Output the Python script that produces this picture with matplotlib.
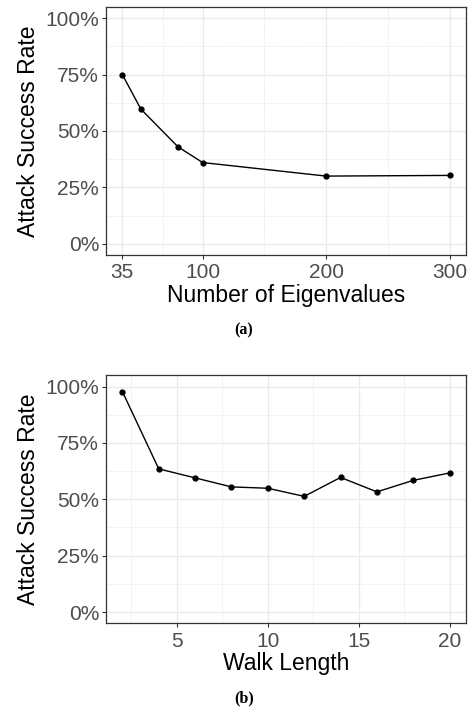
import matplotlib.pyplot as plt
from matplotlib.ticker import FuncFormatter, FixedLocator

# Data
eig_counts = [35, 50, 80, 100, 200, 300]
eig_asr = [0.75, 0.597, 0.43, 0.36, 0.30, 0.303]

walk_lengths = [2, 4, 6, 8, 10, 12, 14, 16, 18, 20]
walk_asr = [0.978, 0.635, 0.595, 0.555, 0.549, 0.513, 0.597, 0.533, 0.584, 0.617]

y_ticks = [0, 0.25, 0.5, 0.75, 1.0]

plt.rcParams['font.family'] = ['Liberation Sans', 'DejaVu Sans']

fig = plt.figure(figsize=(4.74, 7.08), dpi=100)
ax1 = fig.add_axes([106 / 474, 1 - 255 / 708, 360 / 474, 248 / 708])
ax2 = fig.add_axes([106 / 474, 1 - 623.3 / 708, 360 / 474, 248 / 708])


def style(ax, xlabel, xmajor, xminor):
    ax.set_ylim(-0.05, 1.05)
    ax.set_yticks(y_ticks)
    ax.yaxis.set_minor_locator(FixedLocator([0.125, 0.375, 0.625, 0.875]))
    ax.yaxis.set_major_formatter(FuncFormatter(lambda v, p: f'{v * 100:.0f}%'))
    ax.set_xticks(xmajor)
    ax.xaxis.set_minor_locator(FixedLocator(xminor))
    ax.grid(which='major', color='#ebebeb', linewidth=1.0, zorder=0)
    ax.grid(which='minor', color='#e3e3e3', linewidth=0.6, linestyle=(0, (1, 1)), zorder=0)
    ax.set_axisbelow(True)
    for s in ax.spines.values():
        s.set_color('#333333')
        s.set_linewidth(0.9)
    ax.tick_params(which='major', length=3, width=0.8, color='#333333',
                   labelsize=15, labelcolor='#4d4d4d', pad=3)
    ax.tick_params(axis='y', which='major', pad=2)
    ax.tick_params(which='minor', length=0)
    ax.set_ylabel('Attack Success Rate', fontsize=16.5, labelpad=4)
    ax.set_xlabel(xlabel, fontsize=16.5, labelpad=1)


ax1.plot(eig_counts, eig_asr, color='black', linewidth=1.0, marker='o', markersize=3.5, zorder=3)
ax1.set_xlim(21.75, 313.25)
style(ax1, 'Number of Eigenvalues', [35, 100, 200, 300], [67.5, 150, 250])

ax2.plot(walk_lengths, walk_asr, color='black', linewidth=1.0, marker='o', markersize=3.5, zorder=3)
ax2.set_xlim(1.1, 20.9)
style(ax2, 'Walk Length', [5, 10, 15, 20], [2.5, 7.5, 12.5, 17.5])

fig.text(244 / 474, 1 - 330 / 708, '(a)', ha='center', va='center',
         fontsize=11.5, fontweight='bold', family='Liberation Serif')
fig.text(244 / 474, 1 - 698 / 708, '(b)', ha='center', va='center',
         fontsize=11.5, fontweight='bold', family='Liberation Serif')

fig.savefig('out.png', dpi=100)
